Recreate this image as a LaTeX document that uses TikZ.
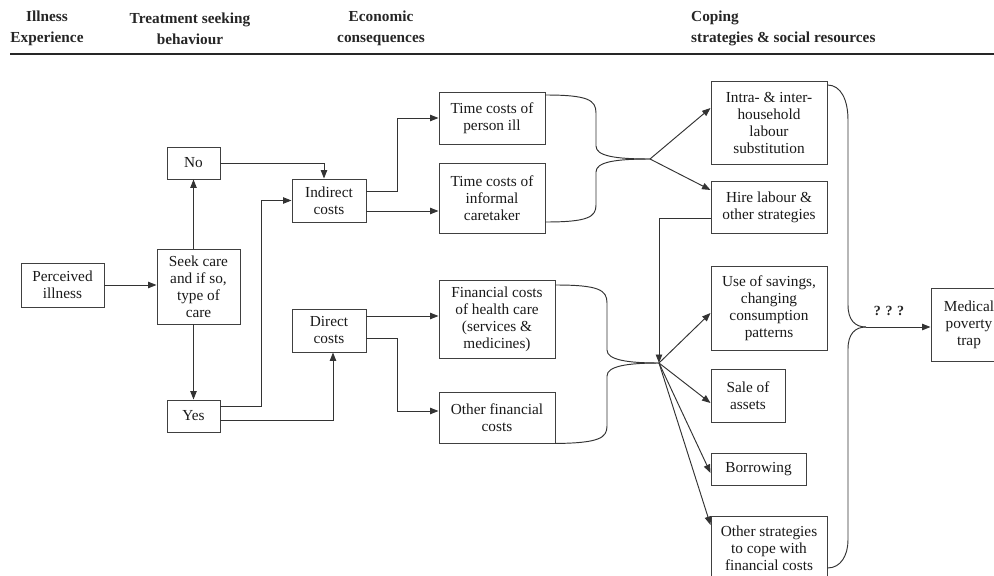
\documentclass[tikz,border=0pt]{standalone}
\usepackage{fontspec}
\setmainfont{Liberation Serif}
\usetikzlibrary{arrows.meta}
\begin{document}
\begin{tikzpicture}[x=1pt,y=-1pt,
  box/.style={draw=black!75,line width=0.95pt,inner sep=0pt,align=center,
    text=black!90,font=\fontsize{15.3}{17}\selectfont},
  head/.style={inner sep=0pt,text=black!85,font=\fontsize{15.3}{21}\selectfont\bfseries},
  con/.style={draw=black!80,line width=0.95pt},
  arr/.style={con,-{Triangle[length=8.5pt,width=6.5pt]}}]
\useasboundingbox (0,0) rectangle (994,576);
\clip (0,0) rectangle (994,576);
% headers
\node[head,align=center] (h1) at (47,28.5) {Illness\\Experience};
\node[head,align=center] (h2) at (190,28.5) {Treatment seeking\\behaviour};
\node[head,align=center] (h3) at (381,28.5) {Economic\\consequences};
\node[head,align=left,anchor=west] (h4) at (691,28.5) {Coping\\strategies \& social resources};
\draw[line width=2pt,black!85] (10,54) -- (994,54);
% boxes
\node[box,minimum width=83pt,minimum height=44pt] (ill) at (62.5,285) {Perceived\\illness};
\node[box,minimum width=83pt,minimum height=75pt] (seek) at (198.5,286.5) {Seek care\\and if so,\\type of\\care};
\node[box,minimum width=53pt,minimum height=32pt] (no) at (193.5,163) {No};
\node[box,minimum width=53pt,minimum height=32pt] (yes) at (193.5,416) {Yes};
\node[box,minimum width=74pt,minimum height=43pt] (ind) at (329,200.5) {Indirect\\costs};
\node[box,minimum width=74pt,minimum height=43pt] (dir) at (329,330.5) {Direct\\costs};
\node[box,minimum width=106pt,minimum height=52pt] (tp) at (492,118) {Time costs of\\person ill};
\node[box,minimum width=106pt,minimum height=70pt] (tc) at (492,198) {Time costs of\\informal\\caretaker};
\node[box,minimum width=116pt,minimum height=78pt] (fh) at (497,319) {Financial costs\\of health care\\(services \&\\medicines)};
\node[box,minimum width=116pt,minimum height=51pt] (of) at (497,417.5) {Other financial\\costs};
\node[box,minimum width=116pt,minimum height=83pt] (intra) at (769,122.5) {Intra- \& inter-\\household\\labour\\substitution};
\node[box,minimum width=116pt,minimum height=52pt] (hire) at (769,207) {Hire labour \&\\other strategies};
\node[box,minimum width=116pt,minimum height=84pt] (use) at (769,308) {Use of savings,\\changing\\consumption\\patterns};
\node[box,minimum width=74pt,minimum height=53pt] (sale) at (748,395.5) {Sale of\\assets};
\node[box,minimum width=95pt,minimum height=32pt] (borr) at (758.5,469) {Borrowing};
\node[box,minimum width=116pt,minimum height=64pt] (oth) at (769,548) {Other strategies\\to cope with\\financial costs};
\node[box,minimum width=76pt,minimum height=73pt] (med) at (969,324.5) {Medical\\poverty\\trap};
\node[inner sep=0pt,text=black!85,font=\fontsize{14}{17}\selectfont\bfseries] (q) at (889,311) {? ? ?};
% junctions
\coordinate (jt) at (650,159);
\coordinate (jf) at (659,363);
\coordinate (jm) at (866,327);
% connectors
\draw[arr] (ill.east) -- (ill.east -| seek.west);
\draw[arr] (no.south |- seek.north) -- (no.south);
\draw[arr] (yes.north |- seek.south) -- (yes.north);
\draw[arr] (no.east) -| ([xshift=-5pt]ind.north);
\draw[arr] (yes.east |- 0,406) -- (261,406) |- (ind.west);
\draw[arr] (yes.east |- 0,420) -| ([xshift=4pt]dir.south);
\draw[arr] (ind.east |- 0,191) -- (397,191) |- (tp.west);
\draw[arr] (ind.east |- 0,211) -- (tc.west |- 0,211);
\draw[arr] (dir.east |- 0,316) -- (fh.west |- 0,316);
\draw[arr] (dir.east |- 0,338) -- (397,338) |- (of.west |- 0,411);
% braces
\draw[con] (tp.east |- 0,95) .. controls (588,95) and (596,100) .. (596,113) -- (596,146) .. controls (596,156) and (615,159) .. (jt);
\draw[con] (tc.east |- 0,222) .. controls (588,222) and (596,217) .. (596,205) -- (596,172) .. controls (596,162) and (615,159) .. (jt);
\draw[con] (fh.east |- 0,285) .. controls (599,285) and (607,290) .. (607,303) -- (607,350) .. controls (607,360) and (628,363) .. (jf);
\draw[con] (of.south east) .. controls (599,443) and (607,438) .. (607,426) -- (607,376) .. controls (607,366) and (628,363) .. (jf);
\draw[con] (intra.east |- 0,85) .. controls (841,85) and (848,100) .. (848,120) -- (848,305) .. controls (848,320) and (855,327) .. (jm);
\draw[con] (oth.east |- 0,568) .. controls (841,568) and (848,555) .. (848,540) -- (848,349) .. controls (848,334) and (855,327) .. (jm);
% fan-out arrows
\draw[arr] (jt) -- (intra.west |- 0,108);
\draw[arr] (jt) -- (hire.west |- 0,190);
\draw[arr] (hire.west |- 0,218) -- (659,218) -- (jf);
\draw[arr] (jf) -- (use.west |- 0,313);
\draw[arr] (jf) -- (sale.west |- 0,403);
\draw[arr] (jf) -- (borr.west |- 0,473);
\draw[arr] (jf) -- (oth.west |- 0,525);
\draw[arr] (jm) -- (med.west |- jm);
\end{tikzpicture}
\end{document}
